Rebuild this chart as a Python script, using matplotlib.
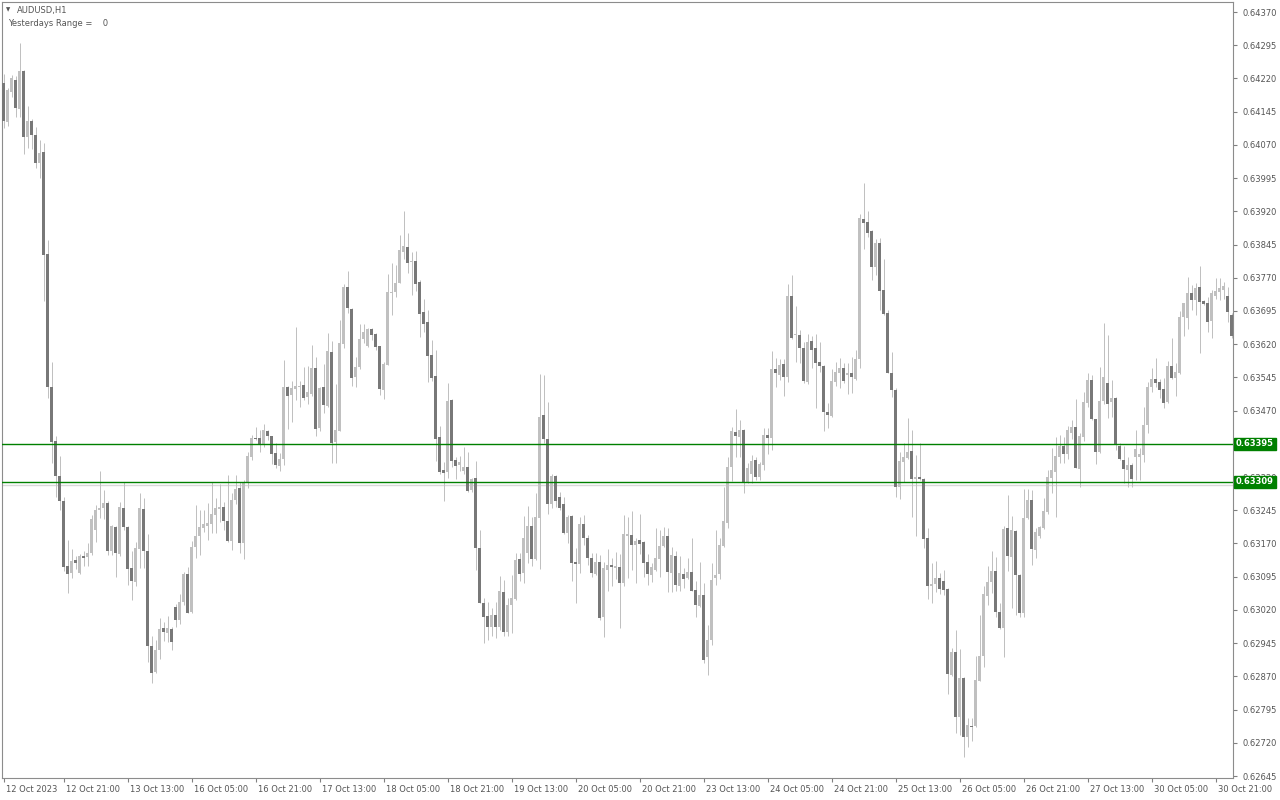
import matplotlib
matplotlib.use('Agg')
import matplotlib.pyplot as plt
import matplotlib.transforms as mtransforms
import numpy as np

# AUDUSD H1 K线 (单位: 0.00001)
opens = [64210, 64121, 64190, 64216, 64152, 64236, 64087, 64123, 64092, 64030,
         64054, 63824, 63523, 63401, 63322, 63266, 63119, 63103, 63133, 63104,
         63142, 63140, 63149, 63200, 63246, 63250, 63262, 63154, 63208, 63146,
         63251, 63208, 63115, 63084, 63157, 63248, 63154, 62939, 62880, 62929,
         62980, 62969, 62977, 63027, 62997, 63039, 63102, 63016, 63161, 63187,
         63206, 63210, 63214, 63234, 63248, 63252, 63221, 63176, 63268, 63295,
         63170, 63308, 63366, 63409, 63409, 63394, 63424, 63412, 63375, 63346,
         63361, 63523, 63505, 63519, 63523, 63528, 63501, 63507, 63567, 63431,
         63523, 63480, 63602, 63400, 63425, 63620, 63748, 63699, 63547, 63569,
         63632, 63617, 63654, 63642, 63616, 63517, 63573, 63736, 63738, 63759,
         63829, 63839, 63806, 63808, 63761, 63693, 63670, 63596, 63548, 63410,
         63336, 63331, 63494, 63358, 63347, 63334, 63343, 63291, 63318, 63160,
         63036, 63007, 62982, 63009, 62982, 63060, 62971, 63030, 63045, 63135,
         63104, 63149, 63209, 63135, 63228, 63460, 63406, 63259, 63322, 63276,
         63259, 63193, 63232, 63129, 63123, 63214, 63182, 63138, 63100, 63129,
         63003, 63110, 63122, 63115, 63117, 63081, 63187, 63189, 63167, 63178,
         63174, 63128, 63099, 63110, 63135, 63164, 63187, 63104, 63142, 63074,
         63101, 63091, 63106, 63065, 63029, 63054, 62914, 62952, 63091, 63100,
         63164, 63217, 63343, 63421, 63411, 63426, 63308, 63327, 63358, 63321,
         63347, 63415, 63409, 63564, 63550, 63575, 63547, 63729, 63640, 63640,
         63612, 63535, 63627, 63611, 63580, 63571, 63468, 63458, 63535, 63556,
         63567, 63550, 63556, 63541, 63586, 63903, 63896, 63875, 63795, 63849,
         63742, 63691, 63556, 63517, 63298, 63355, 63364, 63379, 63315, 63321,
         63316, 63183, 63075, 63078, 63091, 63085, 63067, 62873, 62924, 62779,
         62867, 62734, 62758, 62758, 62860, 62916, 63052, 63082, 63108, 63015,
         62980, 63204, 63140, 63199, 63099, 63014, 63228, 63268, 63155, 63188,
         63204, 63240, 63318, 63332, 63366, 63391, 63372, 63420, 63433, 63338,
         63411, 63488, 63539, 63451, 63377, 63491, 63533, 63490, 63499, 63391,
         63358, 63336, 63347, 63365, 63365, 63370, 63437, 63523, 63541, 63534,
         63518, 63490, 63571, 63543, 63556, 63681, 63680, 63736, 63720, 63750,
         63718, 63714, 63673, 63729, 63738, 63742, 63729, 63686]
highs = [64230, 64199, 64228, 64226, 64300, 64238, 64158, 64128, 64110, 64082,
         64074, 63855, 63580, 63412, 63367, 63275, 63178, 63158, 63142, 63146,
         63152, 63171, 63234, 63258, 63333, 63291, 63266, 63212, 63210, 63264,
         63309, 63210, 63153, 63174, 63283, 63272, 63191, 62960, 62952, 63001,
         62993, 63006, 62982, 63033, 63056, 63106, 63118, 63176, 63257, 63246,
         63246, 63261, 63309, 63272, 63304, 63264, 63325, 63283, 63325, 63309,
         63313, 63377, 63415, 63432, 63426, 63440, 63426, 63413, 63398, 63374,
         63584, 63526, 63537, 63659, 63537, 63569, 63571, 63618, 63590, 63524,
         63575, 63645, 63627, 63529, 63675, 63757, 63785, 63701, 63592, 63665,
         63665, 63656, 63656, 63645, 63617, 63579, 63778, 63804, 63799, 63866,
         63921, 63872, 63829, 63831, 63765, 63722, 63697, 63629, 63607, 63435,
         63353, 63532, 63496, 63366, 63367, 63388, 63377, 63318, 63357, 63200,
         63046, 63037, 63024, 63039, 63097, 63088, 63046, 63099, 63148, 63149,
         63233, 63255, 63230, 63285, 63553, 63550, 63490, 63328, 63325, 63287,
         63276, 63234, 63234, 63160, 63230, 63234, 63189, 63148, 63148, 63144,
         63128, 63157, 63137, 63151, 63146, 63234, 63230, 63243, 63182, 63237,
         63176, 63146, 63127, 63206, 63200, 63208, 63206, 63161, 63154, 63142,
         63114, 63137, 63182, 63085, 63129, 63080, 62986, 63126, 63200, 63182,
         63298, 63366, 63434, 63474, 63449, 63428, 63351, 63370, 63366, 63355,
         63430, 63430, 63605, 63588, 63586, 63586, 63756, 63776, 63707, 63652,
         63626, 63643, 63638, 63643, 63625, 63573, 63487, 63563, 63580, 63588,
         63578, 63577, 63590, 63607, 63913, 63985, 63921, 63877, 63857, 63859,
         63812, 63697, 63603, 63520, 63377, 63396, 63453, 63426, 63370, 63398,
         63318, 63204, 63125, 63130, 63104, 63110, 63070, 62933, 62975, 62932,
         62869, 62775, 62777, 62916, 63009, 63074, 63119, 63153, 63140, 63035,
         63209, 63279, 63232, 63201, 63101, 63292, 63293, 63291, 63204, 63209,
         63273, 63336, 63386, 63411, 63415, 63410, 63435, 63449, 63496, 63419,
         63513, 63556, 63550, 63452, 63569, 63668, 63641, 63539, 63501, 63398,
         63390, 63366, 63351, 63426, 63385, 63479, 63535, 63566, 63588, 63541,
         63544, 63582, 63633, 63577, 63695, 63714, 63772, 63754, 63759, 63796,
         63720, 63727, 63742, 63769, 63769, 63761, 63750, 63690]
lows = [64107, 64113, 64178, 64133, 64133, 64050, 64063, 64061, 64018, 63996,
        63718, 63498, 63351, 63276, 63246, 63109, 63059, 63093, 63112, 63101,
        63120, 63120, 63144, 63174, 63228, 63226, 63144, 63144, 63095, 63142,
        63200, 63076, 63042, 63074, 63114, 63114, 62903, 62854, 62877, 62909,
        62950, 62948, 62929, 62982, 62988, 63031, 63012, 63013, 63137, 63144,
        63197, 63178, 63193, 63193, 63219, 63200, 63174, 63155, 63259, 63148,
        63134, 63295, 63358, 63404, 63377, 63388, 63404, 63349, 63340, 63334,
        63347, 63428, 63445, 63494, 63479, 63494, 63486, 63504, 63413, 63425,
        63464, 63478, 63351, 63351, 63423, 63611, 63691, 63526, 63524, 63563,
        63622, 63614, 63629, 63607, 63505, 63496, 63572, 63686, 63727, 63758,
        63812, 63781, 63731, 63741, 63637, 63648, 63535, 63537, 63357, 63328,
        63267, 63317, 63343, 63315, 63334, 63327, 63286, 63287, 63110, 63035,
        62945, 62952, 62960, 62956, 62975, 62960, 62960, 62967, 63042, 63086,
        63081, 63127, 63120, 63133, 63112, 63398, 63237, 63249, 63253, 63246,
        63192, 63170, 63086, 63035, 63103, 63167, 63122, 63095, 63099, 62997,
        62959, 63063, 63074, 63089, 62980, 63074, 63091, 63110, 63081, 63146,
        63094, 63076, 63083, 63109, 63094, 63161, 63061, 63061, 63063, 63063,
        63070, 63089, 63062, 63005, 63027, 62901, 62873, 62941, 63076, 63089,
        63162, 63204, 63312, 63366, 63366, 63285, 63306, 63306, 63313, 63313,
        63336, 63371, 63381, 63523, 63539, 63504, 63535, 63631, 63580, 63578,
        63532, 63530, 63567, 63477, 63557, 63425, 63430, 63456, 63526, 63520,
        63532, 63507, 63509, 63539, 63566, 63836, 63863, 63766, 63776, 63697,
        63686, 63554, 63500, 63276, 63270, 63309, 63360, 63230, 63187, 63313,
        63159, 63045, 63036, 63061, 63056, 63054, 62830, 62871, 62743, 62738,
        62689, 62711, 62724, 62755, 62859, 62890, 63031, 63059, 63005, 62978,
        62913, 63109, 63024, 63009, 63005, 63005, 63225, 63122, 63137, 63182,
        63202, 63236, 63283, 63230, 63352, 63352, 63360, 63407, 63340, 63297,
        63402, 63479, 63449, 63349, 63374, 63486, 63453, 63456, 63381, 63358,
        63306, 63297, 63297, 63313, 63313, 63353, 63420, 63511, 63524, 63499,
        63475, 63488, 63542, 63504, 63553, 63638, 63654, 63697, 63687, 63601,
        63708, 63648, 63635, 63721, 63720, 63721, 63671, 63635]
closes = [64123, 64194, 64220, 64153, 64236, 64087, 64123, 64093, 64030, 64052,
          63822, 63523, 63400, 63323, 63267, 63116, 63100, 63130, 63127, 63142,
          63138, 63149, 63226, 63246, 63250, 63262, 63154, 63209, 63149, 63253,
          63208, 63113, 63086, 63159, 63251, 63154, 62939, 62878, 62929, 62977,
          62970, 62980, 62948, 62997, 63039, 63102, 63014, 63161, 63187, 63208,
          63214, 63217, 63237, 63251, 63253, 63221, 63176, 63268, 63293, 63172,
          63309, 63368, 63409, 63406, 63394, 63426, 63413, 63372, 63347, 63361,
          63523, 63503, 63520, 63526, 63526, 63499, 63512, 63567, 63428, 63522,
          63483, 63605, 63398, 63426, 63622, 63748, 63701, 63544, 63569, 63631,
          63647, 63654, 63641, 63614, 63519, 63575, 63737, 63738, 63759, 63833,
          63842, 63804, 63808, 63756, 63689, 63666, 63594, 63544, 63406, 63331,
          63330, 63492, 63357, 63346, 63354, 63343, 63289, 63316, 63160, 63036,
          63005, 62982, 63009, 62982, 63063, 62971, 63031, 63046, 63133, 63101,
          63183, 63209, 63135, 63230, 63456, 63405, 63259, 63322, 63267, 63251,
          63194, 63230, 63127, 63124, 63214, 63182, 63137, 63103, 63129, 63001,
          63115, 63122, 63117, 63119, 63081, 63191, 63191, 63167, 63176, 63169,
          63127, 63101, 63116, 63137, 63165, 63187, 63106, 63144, 63076, 63104,
          63090, 63106, 63063, 63032, 63054, 62907, 62952, 63088, 63099, 63167,
          63221, 63343, 63424, 63413, 63426, 63308, 63340, 63356, 63321, 63349,
          63415, 63409, 63564, 63556, 63573, 63547, 63729, 63635, 63643, 63612,
          63537, 63624, 63607, 63578, 63571, 63468, 63460, 63537, 63558, 63567,
          63537, 63556, 63545, 63586, 63906, 63894, 63872, 63795, 63849, 63740,
          63688, 63556, 63517, 63298, 63357, 63366, 63377, 63316, 63321, 63315,
          63180, 63075, 63076, 63091, 63067, 63065, 62875, 62924, 62779, 62866,
          62734, 62760, 62756, 62862, 62916, 63056, 63082, 63108, 63015, 62980,
          63202, 63142, 63200, 63099, 63014, 63227, 63268, 63157, 63197, 63207,
          63244, 63319, 63336, 63367, 63391, 63372, 63426, 63433, 63341, 63413,
          63489, 63539, 63450, 63377, 63492, 63546, 63486, 63498, 63392, 63360,
          63338, 63347, 63316, 63383, 63372, 63437, 63524, 63541, 63532, 63517,
          63488, 63571, 63544, 63557, 63682, 63712, 63736, 63720, 63746, 63716,
          63711, 63671, 63735, 63741, 63747, 63751, 63692, 63638]

label_bars = [0, 15, 31, 47, 63, 79, 95, 111, 127, 143,
              159, 175, 191, 207, 223, 239, 255, 271, 287, 303]
time_labels = ['12 Oct 2023', '12 Oct 21:00', '13 Oct 13:00', '16 Oct 05:00',
               '16 Oct 21:00', '17 Oct 13:00', '18 Oct 05:00', '18 Oct 21:00',
               '19 Oct 13:00', '20 Oct 05:00', '20 Oct 21:00', '23 Oct 13:00',
               '24 Oct 05:00', '24 Oct 21:00', '25 Oct 13:00', '26 Oct 05:00',
               '26 Oct 21:00', '27 Oct 13:00', '30 Oct 05:00', '30 Oct 21:00']

price_ticks = [0.64370, 0.64295, 0.64220, 0.64145, 0.64070, 0.63995, 0.63920,
               0.63845, 0.63770, 0.63695, 0.63620, 0.63545, 0.63470, 0.63395,
               0.63320, 0.63245, 0.63170, 0.63095, 0.63020, 0.62945, 0.62870,
               0.62795, 0.62720, 0.62645]

level_high = 0.63395
level_low = 0.63309
gray_level = 0.63302

symbol_text = 'AUDUSD,H1'
range_text = 'Yesterdays Range =    0'

BULL = '#c0c0c0'
BEAR = '#787878'
WICK = '#c0c0c0'
GREEN = '#008000'
TEXT = '#555555'

o = np.array(opens) / 1e5
h = np.array(highs) / 1e5
l = np.array(lows) / 1e5
c = np.array(closes) / 1e5
x = np.arange(len(o))
up = c >= o

fig = plt.figure(figsize=(12.8, 8), dpi=100)
ax = fig.add_axes([2 / 1280, 22 / 800, 1231 / 1280, 776 / 800])

# 影线 + 实体 (每根K线4像素宽, 实体3像素)
ax.vlines(x, l, h, colors=WICK, linewidth=0.72, zorder=2)
body_col = [BULL if u else BEAR for u in up]
body_h = np.maximum(np.abs(c - o), 0.000025)
ax.bar(x, body_h, bottom=np.minimum(o, c), width=0.75,
       color=body_col, linewidth=0, zorder=3)

ax.axhline(gray_level, color='#d9d9d9', linewidth=1.0, zorder=1)
ax.axhline(level_high, color=GREEN, linewidth=1.0, zorder=4)
ax.axhline(level_low, color=GREEN, linewidth=1.0, zorder=4)

ax.set_xlim(-0.375, 307.375)
ax.set_ylim(0.626405, 0.643926)

# 右侧价格刻度 (0.63395 被绿色标签盖住)
ax.yaxis.tick_right()
ax.set_yticks(price_ticks)
ax.set_yticklabels(['' if p == level_high else f'{p:.5f}' for p in price_ticks])
ax.tick_params(axis='y', direction='out', length=3, width=0.8, colors='#808080',
               labelcolor=TEXT, labelsize=6, pad=4)

# 底部时间刻度
ax.set_xticks(label_bars)
ax.set_xticklabels([])
ax.tick_params(axis='x', direction='out', length=3, width=0.8, colors='#808080')
shift = mtransforms.offset_copy(ax.transData, fig=fig, x=2, y=0, units='dots')
lab_trans = mtransforms.blended_transform_factory(shift, ax.transAxes)
for b, t in zip(label_bars, time_labels):
    ax.text(b, -0.009, t, transform=lab_trans, ha='left', va='top',
            fontsize=6, color=TEXT, clip_on=False)

for sp in ax.spines.values():
    sp.set_color('#8c8c8c')
    sp.set_linewidth(0.8)

# 绿色价格标签
for lv in (level_high, level_low):
    ax.text(1.0025, lv, f'{lv:.5f}', transform=ax.get_yaxis_transform(),
            ha='left', va='center', fontsize=6, color='white', fontweight='bold',
            bbox=dict(boxstyle='square,pad=0.2', facecolor=GREEN, edgecolor=GREEN),
            zorder=10, clip_on=False)

# 左上角信息
fig.text(6 / 1280, 1 - 10 / 800, '\u25bc', fontsize=4, color=TEXT, ha='left', va='center')
fig.text(17 / 1280, 1 - 10 / 800, symbol_text, fontsize=6, color=TEXT, ha='left', va='center')
fig.text(8 / 1280, 1 - 23 / 800, range_text, fontsize=6, color=TEXT, ha='left', va='center')

fig.savefig('out.png', dpi=100, facecolor='white')
